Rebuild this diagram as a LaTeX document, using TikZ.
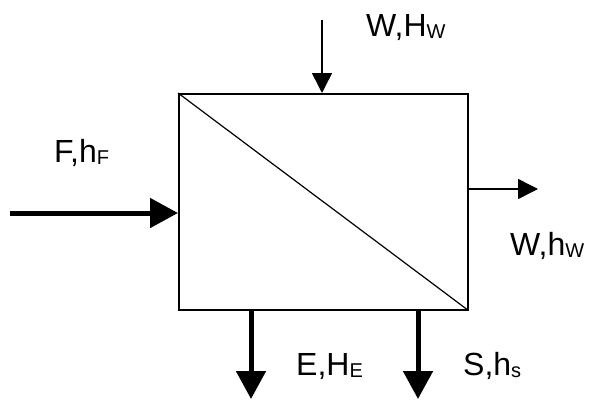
\documentclass[tikz,border=0pt]{standalone}
\usepackage{fontspec}
\setmainfont{Liberation Sans}
\usetikzlibrary{arrows.meta}
\newcommand{\sbs}[1]{\raisebox{-2pt}{\fontsize{20}{20}\selectfont #1}}
\begin{document}
\begin{tikzpicture}[x=1pt,y=-1pt,
  lbl/.style={anchor=base west,inner sep=0pt,font=\fontsize{32}{32}\selectfont},
  thin/.style={line width=1.5pt,-{Triangle[length=20pt,width=20pt]}},
  thick/.style={line width=5pt,-{Triangle[length=28pt,width=29pt]}}]
\useasboundingbox (0,0) rectangle (589,399);
\node[draw,line width=1.5pt,minimum width=289pt,minimum height=216pt,inner sep=0pt,anchor=north west] (box) at (178,93) {};
\draw[line width=1.2pt] (box.north west) -- (box.south east);
\coordinate (fin) at (10,213);
\coordinate (win) at (322,20);
\coordinate (wout) at (538,189);
\coordinate (eout) at (251,399);
\coordinate (sout) at (418,399);
\draw[thick] (fin) -- (fin -| box.west);
\draw[thin] (win) -- (win |- box.north);
\draw[thin] (wout -| box.east) -- (wout);
\draw[thick] (eout |- box.south) -- (eout);
\draw[thick] (sout |- box.south) -- (sout);
\node[lbl] (lw) at (366,36) {W,H\sbs{W}};
\node[lbl] (lf) at (54,162) {F,h\sbs{F}};
\node[lbl] (lwh) at (510,255) {W,h\sbs{W}};
\node[lbl] (le) at (296,375) {E,H\sbs{E}};
\node[lbl] (ls) at (463,375) {S,h\sbs{s}};
\end{tikzpicture}
\end{document}
